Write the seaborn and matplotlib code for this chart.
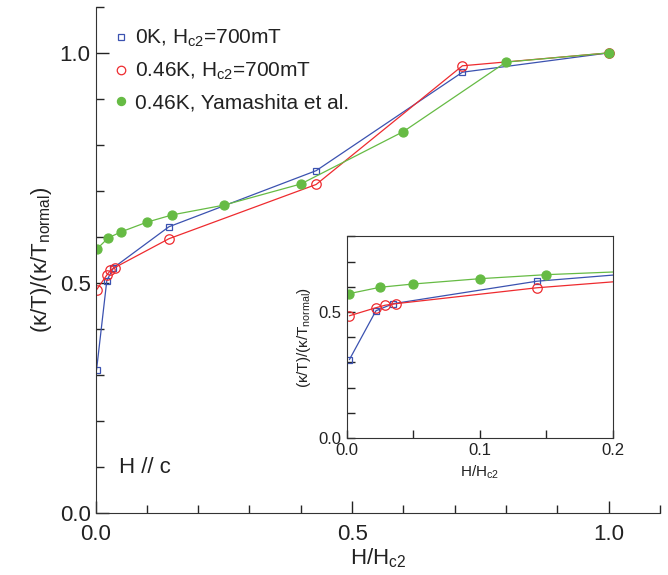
import numpy as np
import pandas as pd
import seaborn as sns
import matplotlib.pyplot as plt
from matplotlib.ticker import MultipleLocator

# ================= DATA =================
# 0K, Hc2 = 700 mT (blue squares)
h_0k = [0.002, 0.022, 0.035, 0.143, 0.43, 0.715, 1.0]
k_0k = [0.311, 0.505, 0.533, 0.622, 0.744, 0.958, 1.0]

# 0.46K, Hc2 = 700 mT (red circles)
h_046 = [0.002, 0.022, 0.029, 0.037, 0.143, 0.43, 0.715, 1.0]
k_046 = [0.485, 0.517, 0.527, 0.533, 0.596, 0.714, 0.972, 1.0]

# 0.46K, Yamashita et al. (green dots)
h_yam = [0.002, 0.025, 0.05, 0.10, 0.15, 0.25, 0.40, 0.60, 0.80, 1.0]
k_yam = [0.573, 0.598, 0.611, 0.632, 0.648, 0.669, 0.715, 0.829, 0.98, 1.0]

LABELS = [r"0K, H$\mathregular{_{c2}}$=700mT",
          r"0.46K, H$\mathregular{_{c2}}$=700mT",
          "0.46K, Yamashita et al."]
# =========================================

BLUE = "#3b52b0"
RED = "#ee2b2f"
GREEN = "#66bb44"

sns.set_style("ticks")
plt.rcParams["font.family"] = ["Liberation Sans", "DejaVu Sans"]
plt.rcParams["mathtext.fontset"] = "custom"
plt.rcParams["mathtext.rm"] = "Liberation Sans"
plt.rcParams["xtick.direction"] = "in"
plt.rcParams["ytick.direction"] = "in"

df_0k = pd.DataFrame({"h": h_0k, "k": k_0k})
df_046 = pd.DataFrame({"h": h_046, "k": k_046})
df_yam = pd.DataFrame({"h": h_yam, "k": k_yam})

series = [
    (df_0k, BLUE, "s", 5, "none", LABELS[0]),
    (df_046, RED, "o", 6.8, "none", LABELS[1]),
    (df_yam, GREEN, "o", 6.5, GREEN, LABELS[2]),
]

fig = plt.figure(figsize=(6.68, 5.75), dpi=100)
ax = fig.add_axes([0.143, 0.108, 0.845, 0.88])


def draw(axis, with_label):
    for df, col, mk, ms, fc, lab in series:
        sns.lineplot(data=df, x="h", y="k", ax=axis, color=col, lw=0.9,
                     marker=mk, markersize=ms, markerfacecolor=fc,
                     markeredgecolor=col, markeredgewidth=0.9,
                     label=lab if with_label else None, legend=False)


draw(ax, True)
ax.set_xlim(0, 1.1)
ax.set_ylim(0, 1.1)
ax.xaxis.set_minor_locator(MultipleLocator(0.1))
ax.yaxis.set_minor_locator(MultipleLocator(0.1))
ax.set_xticks([0.0, 0.5, 1.0])
ax.set_xticklabels(["0.0", "0.5", "1.0"])
ax.set_yticks([0.0, 0.5, 1.0])
ax.set_yticklabels(["0.0", "0.5", "1.0"])
ax.tick_params(which="major", length=9, width=1, labelsize=16, colors="#222222")
ax.tick_params(axis="x", which="major", pad=8)
ax.tick_params(which="minor", length=6, width=1)
sns.despine(ax=ax)
for s in ["left", "bottom"]:
    ax.spines[s].set_color("#333333")
ax.set_xlabel(r"H/H$\mathregular{_{c2}}$", fontsize=16, color="#222222", labelpad=1)
ax.set_ylabel(r"($\mathregular{\kappa}$/T)/($\mathregular{\kappa}$/T$\mathregular{_{normal}}$)",
              fontsize=16, color="#222222")
ax.text(0.045, 0.098, "H // c", fontsize=16, color="#222222", va="center")

leg = ax.legend(loc="upper left", bbox_to_anchor=(0.0, 0.995), frameon=False,
                fontsize=15, handlelength=0.6, handletextpad=0.4,
                labelspacing=0.55, markerscale=0.9)
for h in leg.legend_handles:
    h.set_linestyle("none")
for t in leg.get_texts():
    t.set_color("#222222")

# inset
axi = fig.add_axes([0.519, 0.238, 0.398, 0.351])
draw(axi, False)
axi.set_xlim(0, 0.2)
axi.set_ylim(0, 0.8)
axi.set_xticks([0.0, 0.1, 0.2])
axi.set_xticklabels(["0.0", "0.1", "0.2"])
axi.xaxis.set_minor_locator(MultipleLocator(0.05))
axi.set_yticks([0.0, 0.5])
axi.set_yticklabels(["0.0", "0.5"])
axi.yaxis.set_minor_locator(MultipleLocator(0.1))
axi.tick_params(which="major", length=6, width=1, labelsize=12, colors="#222222")
axi.tick_params(which="minor", length=6, width=1)
for s in axi.spines.values():
    s.set_color("#333333")
axi.set_xlabel(r"H/H$\mathregular{_{c2}}$", fontsize=11, color="#222222")
axi.set_ylabel(r"($\mathregular{\kappa}$/T)/($\mathregular{\kappa}$/T$\mathregular{_{normal}}$)",
               fontsize=11, color="#222222")

fig.savefig("out.png", dpi=100)
